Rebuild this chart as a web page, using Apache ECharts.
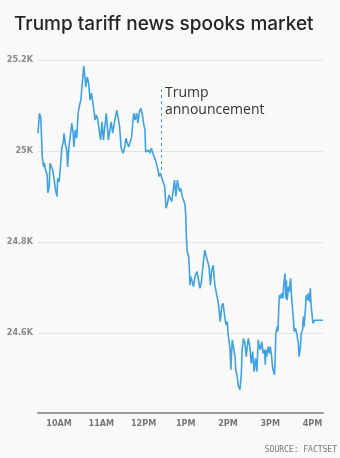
<!DOCTYPE html>
<html>
<head>
<meta charset="utf-8">
<script src="https://cdn.jsdelivr.net/npm/echarts@6/dist/echarts.min.js"></script>
<style>
html,body{margin:0;padding:0;background:#f9f9f9;}
#chart{width:340px;height:458px;}
</style>
</head>
<body>
<div id="chart"></div>
<script>
// Minutes after the 9:30 open
var minutesAfterOpen = [
0,2,4,5,6,8,9,10,13,14,16,17,19,21,23,25,27,28,30,32,34,36,37,39,41,42,44,46,48,50,51,53,55,57,59,61,62,64,65,67,68,70,72,74,76,78,80,81,83,85,87,89,91,93,95,97,98,100,102,104,106,108,110,112,114,116,118,119,121,123,125,127,129,131,133,135,136,138,140,142,144,146,148,150,152,153,155,157,159,161,163,165,167,169,171,172,174,176,178,180,182,184,186,188,
190,192,194,196,198,199,201,203,205,207,209,210,211,212,214,215,216,217,219,221,223,226,228,230,232,233,235,237,239,241,243,245,
247,249,251,253,254,256,259,261,263,265,267,269,270,273,274,276,278,280,281,283,285,287,289,290,292,294,296,297,299,301,303,305,307,309,311,313,314,316,318,320,322,
323,324,325,327,329,330,332,333,334,336,337,338,340,341,342,343,345,346,348,349,351,352,353,354,356,357,359,360,361,363,364,366,367,368,370,371,373,374,376,377,378,380,381,383,384,386,387,388,390,391,393,394,405
];
// Dow Jones level
var dowValues = [
25039,25083,25073,25031,24987,24965,24974,24963,24947,24908,24922,24973,24976,24958,24936,24914,24900,24940,24932,24969,25009,25020,25039,25013,25002,24965,25009,25013,25061,25039,25009,25046,25028,25083,25101,25112,25134,25167,25187,25156,25141,25163,25149,25112,25127,25105,25083,25068,25079,25068,25046,25024,25064,25024,25053,25083,25064,25024,25046,25064,25039,25057,25075,25090,25094,25053,25009,25002,24995,25006,25028,25017,25009,25006,25031,25068,25083,25068,25083,25061,25086,25094,25083,25061,25046,24998,24995,25002,24995,25006,25002,24987,24980,24976,24955,24944,24951,24940,24936,24922,24874,24885,24903,24907,
24889,24911,24936,24900,24936,24940,24911,24918,24900,24903,24881,24856,24804,24779,24768,24746,24705,24724,24713,24702,24724,24735,24731,24698,24709,24724,24757,24782,24768,24757,24746,24705,
24738,24749,24709,24713,24683,24669,24625,24658,24665,24640,24618,24625,24599,24563,24519,24585,24588,24548,24519,24504,24482,24475,24511,24563,24588,24577,24548,24566,24588,24570,24533,24559,24515,24544,24515,24585,24574,24563,24581,24555,24563,
24530,24563,24548,24570,24555,24570,24548,24530,24519,24508,24541,24599,24614,24603,24650,24683,24676,24687,24676,24702,24731,24676,24716,24672,24702,24691,24720,24687,24665,24629,24603,24610,24603,24596,24577,24548,24570,24599,24607,24636,24614,24650,24683,24672,24687,24669,24698,24662,24632,24621,24628,24628,24628
];
var openMinute = 570; // 9:30 in minutes since midnight
var xTickValues = [600,660,720,780,840,900,960];
var xTickLabels = ['10AM','11AM','12PM','1PM','2PM','3PM','4PM'];
var yTickValues = [24600,24800,25000,25200];
var yTickLabels = ['24.6K','24.8K','25K','25.2K'];
var announcementTime = 745; // 12:25
var announcementRange = [24958, 25136];

var lineColor = '#3fa2e2';
var axisFont = "'DejaVu Sans Condensed', 'DejaVu Sans', sans-serif";
var seriesData = minutesAfterOpen.map(function(m,i){return [openMinute+m, dowValues[i]];});

var chart = echarts.init(document.getElementById('chart'), null, {renderer:'canvas'});
chart.setOption({
  backgroundColor:'#f9f9f9',
  animation:false,
  title:{
    text:'Trump tariff news spooks market',
    left:9, top:10,
    textStyle:{fontFamily:'Inter', fontSize:19, fontWeight:500, color:'#252525'}
  },
  grid:{left:38, right:17, top:60, bottom:45},
  xAxis:{
    type:'value', min:570, max:975,
    axisLine:{show:true, lineStyle:{color:'#9a9a9a', width:2}},
    axisTick:{show:false, customValues:xTickValues},
    splitLine:{show:false},
    axisLabel:{
      customValues:xTickValues,
      formatter:function(v){return xTickLabels[xTickValues.indexOf(v)];},
      color:'#777', fontFamily:axisFont, fontWeight:'bold', fontSize:9, margin:6
    }
  },
  yAxis:{
    type:'value', min:24424, max:25200,
    axisLine:{show:false},
    axisTick:{show:false, customValues:yTickValues},
    splitLine:{show:true, lineStyle:{color:'#e4e4e4', width:1}},
    axisLabel:{
      customValues:yTickValues,
      formatter:function(v){return yTickLabels[yTickValues.indexOf(v)];},
      color:'#888', fontFamily:axisFont, fontWeight:'bold', fontSize:9, margin:5
    }
  },
  series:[{
    type:'line',
    data:seriesData,
    showSymbol:false,
    lineStyle:{color:lineColor, width:1.6},
    silent:true,
    markLine:{
      silent:true,
      symbol:'none',
      label:{show:false},
      lineStyle:{color:lineColor, width:1, type:[3,3]},
      data:[[{coord:[announcementTime, announcementRange[1]]},{coord:[announcementTime, announcementRange[0]]}]]
    }
  }],
  graphic:[
    {type:'text', left:165, top:85, style:{text:'Trump\nannouncement', fontFamily:'Open Sans', fontSize:14, lineHeight:17, fill:'#333'}},
    {type:'text', right:3, top:446, style:{text:'SOURCE: FACTSET', fontFamily:'DejaVu Sans Mono', fontSize:8, fill:'#777'}}
  ]
});
</script>
</body>
</html>
